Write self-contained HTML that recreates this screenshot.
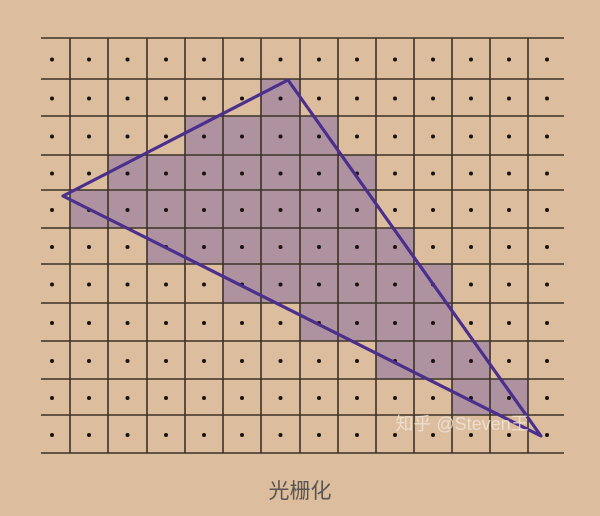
<!DOCTYPE html>
<html><head><meta charset="utf-8"><style>
html,body{margin:0;padding:0;background:#dcbd9d;}
svg{display:block;}
</style></head><body>
<svg id="fig" width="600" height="516" viewBox="0 0 600 516" xmlns="http://www.w3.org/2000/svg">
<rect width="600" height="516" fill="#dcbd9d"/>
<g id="cells"></g>
<g id="grid"></g>
<g id="dots"></g>
<polygon id="tri" fill="none" stroke="#4b2f8c" stroke-width="3.2" stroke-linejoin="round"/>
<text x="462" y="430" text-anchor="middle" font-size="18" fill="#f1e6dc" fill-opacity="0.8" font-family="Liberation Sans, Noto Sans CJK SC, sans-serif">知乎 @Steven王</text>
<text x="300" y="498" text-anchor="middle" font-size="21" fill="#5a5552" font-family="Liberation Sans, Noto Sans CJK SC, sans-serif">光栅化</text>
</svg>
<script>
const colEdges = [41,70,108,147,185,223,261,300,338,376,414,452,490,528,564];
const rowEdges = [38,79,116,155,190,228,264,303,341,379,415,453];
const coveredStart = [null,6,4,2,1,3,5,7,9,11,null];
const coveredEnd   = [null,6,7,8,8,9,10,10,11,12,null];
const triVerts = [[63,196],[288,80],[541,436]];
const ns = 'http://www.w3.org/2000/svg';
const cells = document.getElementById('cells'), grid = document.getElementById('grid'), dots = document.getElementById('dots');
for (let r = 0; r < rowEdges.length - 1; r++) {
  if (coveredStart[r] === null) continue;
  for (let c = coveredStart[r]; c <= coveredEnd[r]; c++) {
    const e = document.createElementNS(ns, 'rect');
    e.setAttribute('x', colEdges[c]); e.setAttribute('y', rowEdges[r]);
    e.setAttribute('width', colEdges[c+1]-colEdges[c]); e.setAttribute('height', rowEdges[r+1]-rowEdges[r]);
    e.setAttribute('fill', '#af929f');
    
    
    cells.appendChild(e);
  }
}
rowEdges.forEach(y => {
  const l = document.createElementNS(ns, 'line');
  l.setAttribute('x1', 41); l.setAttribute('x2', 564); l.setAttribute('y1', y); l.setAttribute('y2', y);
  l.setAttribute('stroke', '#3b3226'); l.setAttribute('stroke-width', '1.6');
  
  
  grid.appendChild(l);
});
colEdges.slice(1, -1).forEach(x => {
  const l = document.createElementNS(ns, 'line');
  l.setAttribute('x1', x); l.setAttribute('x2', x); l.setAttribute('y1', 38); l.setAttribute('y2', 453);
  l.setAttribute('stroke', '#3b3226'); l.setAttribute('stroke-width', '1.6');
  
  
  grid.appendChild(l);
});
for (let r = 0; r < rowEdges.length - 1; r++) {
  for (let c = 0; c < colEdges.length - 1; c++) {
    const d = document.createElementNS(ns, 'circle');
    const cx = c === 0 ? 52 : (c === colEdges.length - 2 ? 547 : (colEdges[c]+colEdges[c+1])/2);
    d.setAttribute('cx', cx); d.setAttribute('cy', (rowEdges[r]+rowEdges[r+1])/2 + 1);
    d.setAttribute('r', 2); d.setAttribute('fill', '#1a1410');
    
    
    dots.appendChild(d);
  }
}
document.getElementById('tri').setAttribute('points', triVerts.map(p => p.join(',')).join(' '));
</script>
</body></html>
